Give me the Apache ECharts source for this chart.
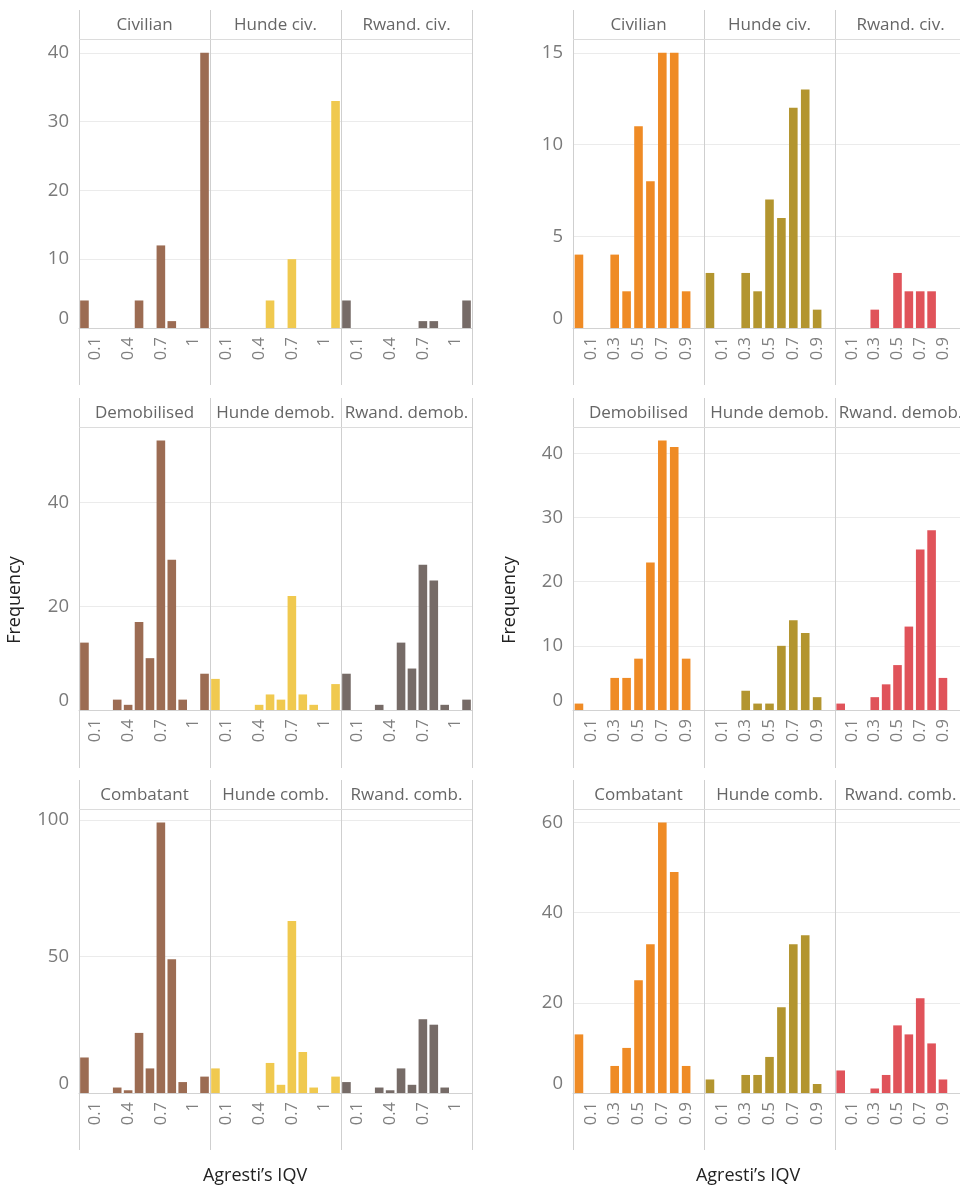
<!DOCTYPE html>
<html>
<head>
<meta charset="utf-8">
<title>Agresti's IQV histograms</title>
<style>
  html, body { margin: 0; padding: 0; background: #fff; }
  #chart { width: 960px; height: 1187px; }
</style>
<script src="https://cdn.jsdelivr.net/npm/echarts@6/dist/echarts.min.js"></script>
</head>
<body>
<div id="chart"></div>
<script>
// bins and tick labels
const leftBins = ['0', '0.1', '0.2', '0.3', '0.4', '0.5', '0.6', '0.7', '0.8', '0.9', '1', '1.1']
const leftTicks = ['0.1', '0.4', '0.7', '1']
const rightBins = ['0', '0.1', '0.2', '0.3', '0.4', '0.5', '0.6', '0.7', '0.8', '0.9', '1']
const rightTicks = ['0.1', '0.3', '0.5', '0.7', '0.9']

const stripLabels = [
  ['Civilian', 'Hunde civ.', 'Rwand. civ.'],
  ['Demobilised', 'Hunde demob.', 'Rwand. demob.'],
  ['Combatant', 'Hunde comb.', 'Rwand. comb.'],
]

// left block counts
const civilianL = [4, 0, 0, 0, 0, 4, 0, 12, 1, 0, 0, 40]
const hundeCivL = [0, 0, 0, 0, 0, 4, 0, 10, 0, 0, 0, 33]
const rwandCivL = [4, 0, 0, 0, 0, 0, 0, 1, 1, 0, 0, 4]
const demobL = [13, 0, 0, 2, 1, 17, 10, 52, 29, 2, 0, 7]
const hundeDemobL = [6, 0, 0, 0, 1, 3, 2, 22, 3, 1, 0, 5]
const rwandDemobL = [7, 0, 0, 1, 0, 13, 8, 28, 25, 1, 0, 2]
const combatantL = [13, 0, 0, 2, 1, 22, 9, 99, 49, 4, 0, 6]
const hundeCombL = [9, 0, 0, 0, 0, 11, 3, 63, 15, 2, 0, 6]
const rwandCombL = [4, 0, 0, 2, 1, 9, 3, 27, 25, 2, 0, 0]

// right block counts
const civilianR = [4, 0, 0, 4, 2, 11, 8, 15, 15, 2, 0]
const hundeCivR = [3, 0, 0, 3, 2, 7, 6, 12, 13, 1, 0]
const rwandCivR = [0, 0, 0, 1, 0, 3, 2, 2, 2, 0, 0]
const demobR = [1, 0, 0, 5, 5, 8, 23, 42, 41, 8, 0]
const hundeDemobR = [0, 0, 0, 3, 1, 1, 10, 14, 12, 2, 0]
const rwandDemobR = [1, 0, 0, 2, 4, 7, 13, 25, 28, 5, 0]
const combatantR = [13, 0, 0, 6, 10, 25, 33, 60, 49, 6, 0]
const hundeCombR = [3, 0, 0, 4, 4, 8, 19, 33, 35, 2, 0]
const rwandCombR = [5, 0, 0, 1, 4, 15, 13, 21, 11, 3, 0]

const leftColors = ['#9c6c53', '#f0c94f', '#766b67']
const rightColors = ['#ef8b25', '#b3952f', '#e0535a']

const FONT = 'Open Sans'

// layout of the facet rows
const rowTop = [10, 398, 780]
const plotTop = [39, 427, 809]
const plotBottom = [328, 710, 1093]
const rowBottom = [385, 768, 1150]

const blocks = [
  {
    x0: 79, pw: 131, bins: leftBins, ticks: leftTicks, colors: leftColors,
    intervals: [10, 20, 50], titleX: 255, freqX: 15,
    data: [[civilianL, hundeCivL, rwandCivL], [demobL, hundeDemobL, rwandDemobL], [combatantL, hundeCombL, rwandCombL]],
  },
  {
    x0: 573, pw: 131, bins: rightBins, ticks: rightTicks, colors: rightColors,
    intervals: [5, 10, 20], titleX: 748, freqX: 510,
    data: [[civilianR, hundeCivR, rwandCivR], [demobR, hundeDemobR, rwandDemobR], [combatantR, hundeCombR, rwandCombR]],
  },
]

const grid = []
const xAxis = []
const yAxis = []
const series = []
const graphic = []

blocks.forEach((b) => {
  for (let r = 0; r < 3; r++) {
    const rowMax = Math.max(...b.data[r].flat()) * 1.05
    for (let p = 0; p < 3; p++) {
      const gi = grid.length
      const left = b.x0 + p * b.pw
      grid.push({ left, top: plotTop[r], width: b.pw, height: plotBottom[r] - plotTop[r] })
      xAxis.push({
        type: 'category',
        gridIndex: gi,
        data: b.bins,
        axisTick: { show: false },
        axisLine: { lineStyle: { color: '#d2d2d2', width: 1 } },
        axisLabel: {
          rotate: 90,
          interval: (i, v) => b.ticks.includes(v),
          margin: 9,
          color: '#808080',
          fontSize: 16.5,
          fontFamily: FONT,
        },
      })
      yAxis.push({
        type: 'value',
        gridIndex: gi,
        min: 0,
        max: rowMax,
        interval: b.intervals[r],
        axisLine: { show: false },
        axisTick: { show: false },
        splitLine: { lineStyle: { color: '#ebebeb', width: 1 } },
        axisLabel: {
          show: p === 0,
          showMaxLabel: false,
          verticalAlignMinLabel: 'bottom',
          margin: 10,
          color: '#7a7a7a',
          fontSize: 18.5,
          fontFamily: FONT,
        },
      })
      series.push({
        type: 'bar',
        xAxisIndex: gi,
        yAxisIndex: gi,
        data: b.data[r][p],
        barWidth: 8.6,
        itemStyle: { color: b.colors[p] },
        silent: true,
      })
      // strip label
      graphic.push({
        type: 'text',
        x: left + b.pw / 2,
        y: (rowTop[r] + plotTop[r]) / 2 + 1,
        style: {
          text: stripLabels[r][p],
          fill: '#666',
          font: `17px "${FONT}"`,
          textAlign: 'center',
          textVerticalAlign: 'middle',
        },
      })
    }
    // panel borders and strip line
    for (let e = 0; e <= 3; e++) {
      const x = b.x0 + e * b.pw + 0.5
      graphic.push({
        type: 'line',
        shape: { x1: x, y1: rowTop[r], x2: x, y2: rowBottom[r] },
        style: { stroke: '#cfcfcf', lineWidth: 1 },
        z: 10,
      })
    }
    graphic.push({
      type: 'line',
      shape: { x1: b.x0, y1: plotTop[r] + 0.5, x2: b.x0 + 3 * b.pw, y2: plotTop[r] + 0.5 },
      style: { stroke: '#dcdcdc', lineWidth: 1 },
      z: 10,
    })
  }
  graphic.push({
    type: 'text',
    x: b.freqX,
    y: 600,
    rotation: Math.PI / 2,
    style: {
      text: 'Frequency',
      fill: '#222',
      font: `18px "${FONT}"`,
      textAlign: 'center',
      textVerticalAlign: 'middle',
    },
  })
  graphic.push({
    type: 'text',
    x: b.titleX,
    y: 1176,
    style: {
      text: 'Agresti’s IQV',
      fill: '#222',
      font: `18px "${FONT}"`,
      textAlign: 'center',
      textVerticalAlign: 'middle',
    },
  })
})

const chart = echarts.init(document.getElementById('chart'))
chart.setOption({
  animation: false,
  backgroundColor: '#fff',
  grid,
  xAxis,
  yAxis,
  series,
  graphic,
})
</script>
</body>
</html>
